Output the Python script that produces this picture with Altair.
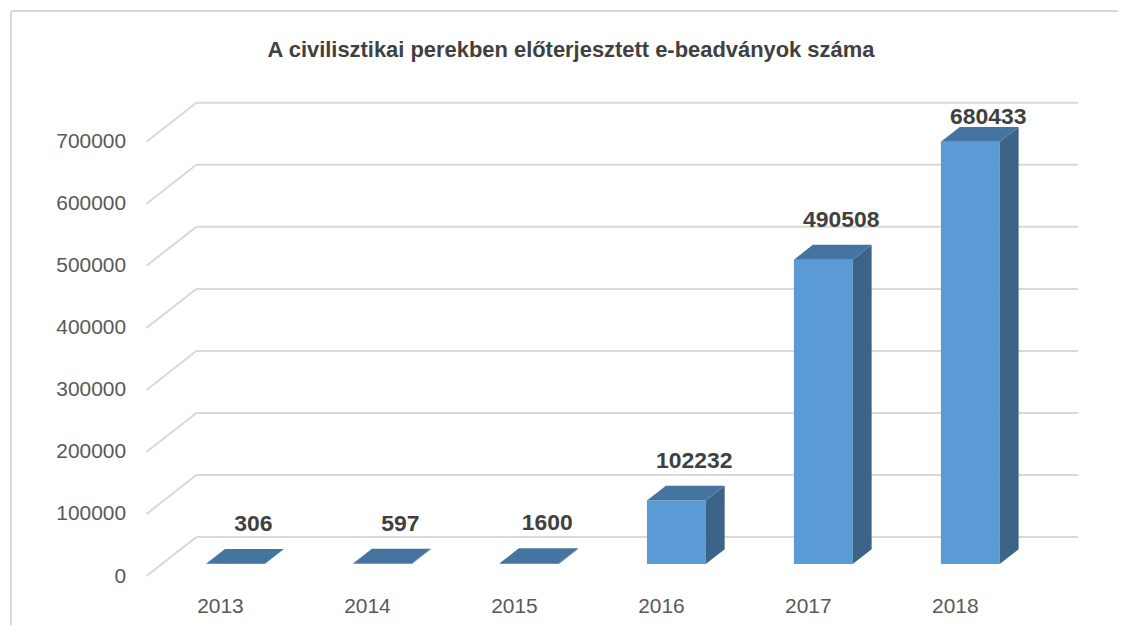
import altair as alt
import pandas as pd

# ---- data ----
years = ["2013", "2014", "2015", "2016", "2017", "2018"]
values = [306, 597, 1600, 102232, 490508, 680433]
y_ticks = [0, 100000, 200000, 300000, 400000, 500000, 600000, 700000]
title_text = "A civilisztikai perekben előterjesztett e-beadványok száma"

# ---- pseudo-3D geometry (in data units) ----
DX = 0.339          # depth offset along x (category units)
DY = 62800          # depth offset along y (value units)
F0, F1 = 0.31, 0.69 # bar front / back position within the depth
HALF = 0.2          # half width of bar front face
NCAT = len(years)
Y_MAX = y_ticks[-1] + DY
LABEL_GAP = 29000   # gap between bar top and its label (value units)
LABEL_CAP = 35000   # keep labels inside the plot area

FRONT = "#5b9bd5"
SIDE = "#3b6488"
TOP = "#4674a0"
GRID = "#d9d9d9"

xs = alt.Scale(domain=[0, NCAT + DX], nice=False, zero=False)
ys = alt.Scale(domain=[0, Y_MAX], nice=False, zero=False)

# gridlines: back wall lines + diagonal side-wall lines
grid_rows = []
for t in y_ticks:
    grid_rows.append(dict(x=DX, x2=NCAT + DX, y=t + DY, y2=t + DY))
    grid_rows.append(dict(x=0, x2=DX, y=t, y2=t + DY))
grid_df = pd.DataFrame(grid_rows)

front_rows, side_rows, top_rows, lab_rows = [], [], [], []
for i, (yr, v) in enumerate(zip(years, values)):
    c = i + 0.5 + F0 * DX
    xl, xr = c - HALF, c + HALF
    bd = (F1 - F0) * DX
    front_rows.append(dict(year=yr, x=xl, x2=xr, y=F0 * DY, y2=v + F0 * DY))
    side_rows.append(dict(year=yr, x=xr, y=F0 * DY, y2=v + F0 * DY))
    side_rows.append(dict(year=yr, x=xr + bd, y=F1 * DY, y2=v + F1 * DY))
    top_rows.append(dict(year=yr, y=v + F0 * DY, x=xl, x2=xr))
    top_rows.append(dict(year=yr, y=v + F1 * DY, x=xl + bd, x2=xr + bd))
    ly = min(v + F1 * DY + LABEL_GAP, Y_MAX - LABEL_CAP)
    lab_rows.append(dict(year=yr, x=c, y=ly, label=str(v)))

front_df = pd.DataFrame(front_rows)
side_df = pd.DataFrame(side_rows)
top_df = pd.DataFrame(top_rows)
lab_df = pd.DataFrame(lab_rows)

year_expr = "[" + ",".join("'%s'" % y for y in years) + "][round(datum.value - 0.5)]"

x_axis = alt.Axis(
    values=[i + 0.5 for i in range(NCAT)], labelExpr=year_expr,
    domain=False, ticks=False, grid=False, title=None,
    labelFont="Liberation Sans", labelFontSize=21, labelColor="#595959",
    labelPadding=20, labelBaseline="top")
y_axis = alt.Axis(
    values=y_ticks, format="d",
    domain=False, ticks=False, grid=False, title=None,
    labelFont="Liberation Sans", labelFontSize=21, labelColor="#595959",
    labelPadding=21)

X = lambda f: alt.X(f, scale=xs, axis=x_axis)
Y = lambda f: alt.Y(f, scale=ys, axis=y_axis)

grid = alt.Chart(grid_df).mark_rule(color=GRID, strokeWidth=2).encode(
    x=X("x:Q"), x2="x2:Q", y=Y("y:Q"), y2="y2:Q",
)

front = alt.Chart(front_df).mark_rect(color=FRONT).encode(
    x=X("x:Q"), x2="x2:Q", y=Y("y:Q"), y2="y2:Q",
)

side = alt.Chart(side_df).mark_area(color=SIDE, opacity=1).encode(
    x=X("x:Q"), y=Y("y:Q"), y2="y2:Q", detail="year:N",
)

top = alt.Chart(top_df).mark_area(color=TOP, orient="horizontal", opacity=1).encode(
    y=Y("y:Q"), x=X("x:Q"), x2="x2:Q", detail="year:N",
)

labels = alt.Chart(lab_df).mark_text(
    font="Liberation Sans", fontWeight="bold", fontSize=23, color="#404040",
    baseline="alphabetic", align="center", dx=18,
).encode(
    x=X("x:Q"), y=Y("y:Q"), text="label:N",
)

one = pd.DataFrame({"t": [title_text]})

title_mark = alt.Chart(one).mark_text(
    font="Liberation Sans", fontWeight="bold", fontSize=22,
    color="#404040", align="center", baseline="alphabetic",
).encode(x=alt.value(426), y=alt.value(-46), text="t:N")

# outer chart-area frame (decorative)
frame = alt.Chart(one).mark_rule(color=GRID, strokeWidth=2).encode(
    x=alt.value(-136), x2=alt.value(975), y=alt.value(-92), y2=alt.value(-92))
frame_left = alt.Chart(one).mark_rule(color=GRID, strokeWidth=2).encode(
    x=alt.value(-136), x2=alt.value(-136), y=alt.value(-92), y2=alt.value(530))

chart = alt.layer(
    grid, front, side, top, labels, title_mark, frame, frame_left
).properties(
    width=935, height=475,
    background="white",
    padding={"left": 139, "top": 94, "right": 40, "bottom": 48},
    autosize=alt.AutoSizeParams(type="none"),
).configure_view(stroke=None, strokeWidth=0)

chart.save("out.html", embed_options={"renderer": "svg", "actions": False})
